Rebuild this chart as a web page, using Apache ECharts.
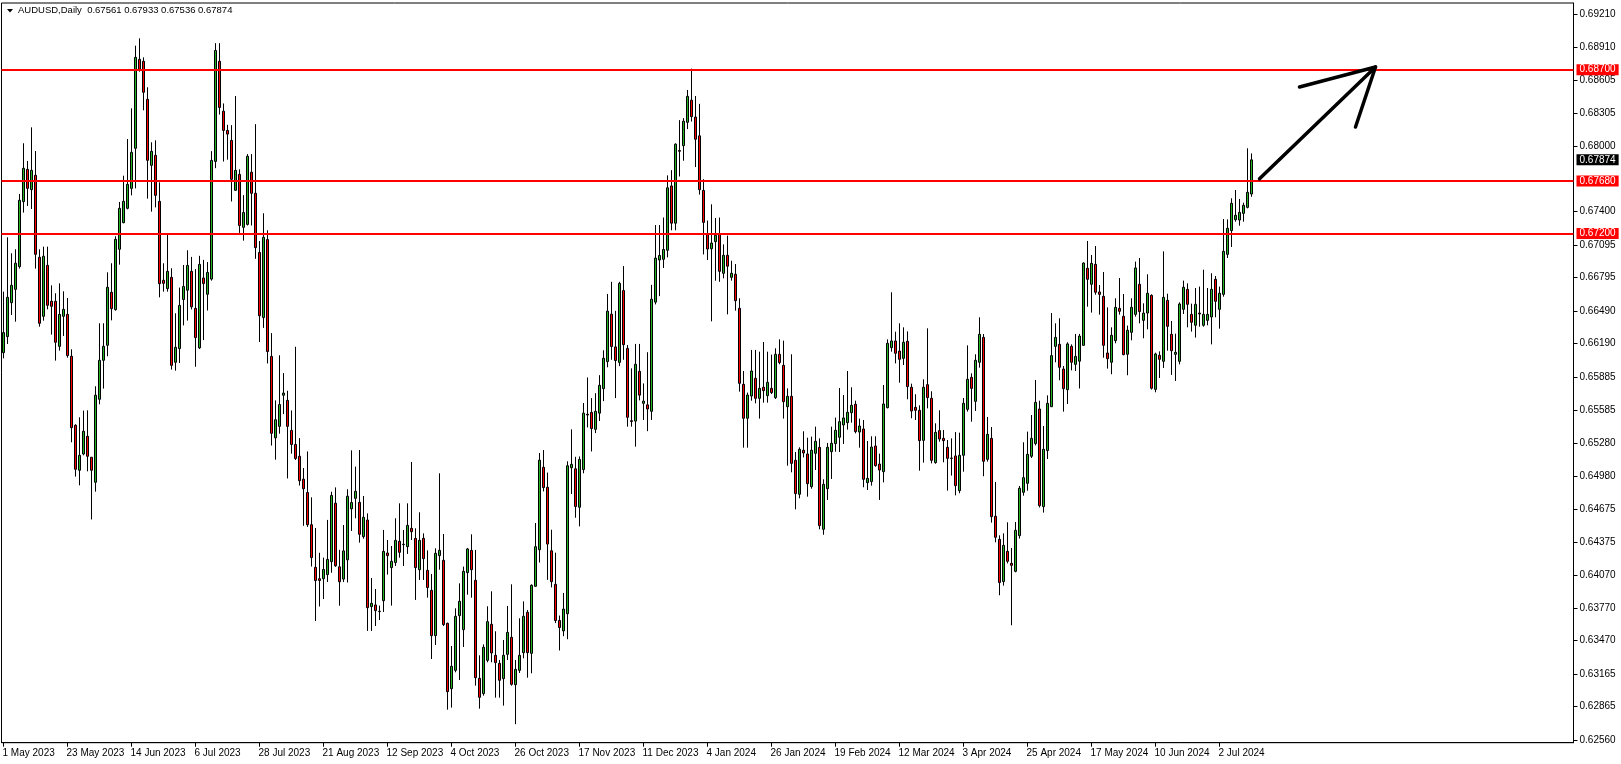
<!DOCTYPE html>
<html><head><meta charset="utf-8">
<script src="https://cdn.jsdelivr.net/npm/echarts@6/dist/echarts.min.js"></script>
<style>html,body{margin:0;padding:0;background:#fff}#c{width:1621px;height:764px}</style>
</head><body><div id="c"></div>
<script>
const symbolName = 'AUDUSD,Daily';
// rows: [open, high, low, close]
const may2023 = [
[0.66108,0.66667,0.66056,0.66292],[0.66255,0.67165,0.66188,0.66615],[0.66566,0.67018,0.66453,0.66725],[0.66688,0.67055,0.66392,0.66927],
[0.66896,0.67562,0.66878,0.67504],[0.67491,0.68026,0.67391,0.67797],[0.67787,0.67864,0.67452,0.67613],[0.67601,0.68172,0.67424,0.67778],
[0.67733,0.67955,0.66878,0.67009],[0.66982,0.67055,0.66346,0.66377],[0.66441,0.67079,0.66401,0.66991],[0.66908,0.67079,0.66505,0.66542],
[0.66579,0.66725,0.66273,0.66533],[0.66579,0.66652,0.66035,0.66203],[0.66166,0.66743,0.66127,0.66459],[0.66441,0.66670,0.66261,0.66505],
[0.66459,0.66609,0.66062,0.66081],[0.66075,0.66139,0.65287,0.65421],[0.65443,0.65452,0.64973,0.65040],[0.65031,0.65516,0.64893,0.65168],
[0.65180,0.65577,0.65168,0.65388],[0.65342,0.65580,0.65021,0.65159],[0.65150,0.65150,0.64580,0.65031]];
const jun2023 = [
[0.64921,0.65800,0.64835,0.65718],[0.65681,0.66377,0.65635,0.66038],[0.66038,0.66377,0.65779,0.66166],[0.66176,0.66844,0.66075,0.66707],
[0.66661,0.66927,0.66404,0.66511],[0.66502,0.67174,0.66493,0.67146],[0.67055,0.67488,0.66914,0.67430],[0.67299,0.67729,0.67293,0.67494],
[0.67430,0.68065,0.67421,0.67650],[0.67613,0.68346,0.67549,0.67943],[0.67980,0.68920,0.67613,0.68813],[0.68795,0.68987,0.68682,0.68703],
[0.68777,0.68813,0.68328,0.68493],[0.68429,0.68539,0.67519,0.67870],[0.67824,0.68035,0.67400,0.67952],[0.67916,0.68053,0.67439,0.67549],
[0.67494,0.67668,0.66615,0.66740],[0.66771,0.66927,0.66667,0.66743],[0.66695,0.67201,0.66667,0.66853],[0.66798,0.66881,0.65953,0.65992],
[0.66020,0.66469,0.65943,0.66157],[0.66145,0.66704,0.66013,0.66541]];
const jul2023 = [
[0.66595,0.66911,0.66358,0.66714],[0.66680,0.67046,0.66402,0.66907],[0.66853,0.66985,0.66504,0.66528],[0.66514,0.66873,0.65979,0.66246],
[0.66152,0.66995,0.66141,0.66917],[0.66792,0.66958,0.66223,0.66741],[0.66643,0.66938,0.66494,0.66843],[0.66782,0.67954,0.66768,0.67869],
[0.67860,0.68943,0.67798,0.68876],[0.68777,0.68943,0.68289,0.68354],[0.68320,0.68391,0.67859,0.68144],[0.68144,0.68195,0.67876,0.68110],
[0.68052,0.68192,0.67493,0.67696],[0.67595,0.68459,0.67592,0.67778],[0.67741,0.67788,0.67205,0.67273],[0.67256,0.67551,0.67134,0.67392],
[0.67283,0.67927,0.67273,0.67907],[0.67761,0.67927,0.67273,0.67568],[0.67568,0.68201,0.66968,0.67070],[0.67026,0.67131,0.66206,0.66446],
[0.66429,0.67385,0.66335,0.67165]];
const aug2023 = [
[0.67144,0.67229,0.66009,0.66118],[0.66074,0.66287,0.65257,0.65369],[0.65328,0.65671,0.65128,0.65494],[0.65433,0.66084,0.65366,0.65633],
[0.65718,0.65921,0.65545,0.65738],[0.65671,0.65759,0.64956,0.65433],[0.65396,0.65579,0.65183,0.65267],[0.65267,0.66162,0.65125,0.65139],
[0.65159,0.65325,0.64891,0.64935],[0.64949,0.65051,0.64522,0.64861],[0.64827,0.65203,0.64512,0.64532],[0.64532,0.64783,0.64149,0.64231],
[0.64142,0.64502,0.63650,0.64021],[0.64037,0.64275,0.63783,0.64021],[0.64037,0.64231,0.63851,0.64122],[0.64075,0.64576,0.64007,0.64214],
[0.64193,0.64834,0.64092,0.64800],[0.64729,0.64874,0.64146,0.64156],[0.64146,0.64302,0.63790,0.64010],[0.64034,0.64529,0.64007,0.64292],
[0.64210,0.64857,0.64003,0.64793],[0.64678,0.65213,0.64475,0.64735],[0.64774,0.65064,0.64591,0.64838]];
const sep2023 = [
[0.64737,0.65216,0.64368,0.64444],[0.64423,0.64795,0.64404,0.64600],[0.64575,0.64636,0.63559,0.63772],[0.63782,0.64044,0.63559,0.63812],
[0.63797,0.63943,0.63604,0.63745],[0.63739,0.63791,0.63659,0.63736],[0.63836,0.64484,0.63733,0.64288],[0.64273,0.64392,0.64075,0.64249],
[0.64139,0.64337,0.63791,0.64197],[0.64185,0.64591,0.64154,0.64389],[0.64380,0.64728,0.64230,0.64279],[0.64349,0.64484,0.64154,0.64353],
[0.64331,0.64728,0.64264,0.64526],[0.64499,0.65107,0.64392,0.64468],[0.64407,0.64499,0.63843,0.64139],[0.64120,0.64646,0.64026,0.64389],
[0.64407,0.64453,0.64026,0.64221],[0.64114,0.64297,0.63864,0.63956],[0.63931,0.64081,0.63302,0.63516],[0.63516,0.64316,0.63430,0.64270],
[0.64249,0.65003,0.64120,0.64297]];
const oct2023 = [
[0.64206,0.64447,0.63604,0.63617],[0.63629,0.63635,0.62838,0.63003],[0.63030,0.63421,0.62857,0.63235],[0.63198,0.63766,0.63180,0.63693],
[0.63699,0.63995,0.63110,0.63830],[0.63571,0.64148,0.63412,0.64105],[0.64093,0.64319,0.63891,0.64310],[0.64297,0.64444,0.63864,0.64120],
[0.64023,0.64301,0.63058,0.63131],[0.63125,0.63336,0.62847,0.62951],[0.62985,0.63436,0.62966,0.63409],[0.63290,0.63785,0.63272,0.63644],
[0.63620,0.63922,0.63272,0.63357],[0.63336,0.63556,0.62948,0.63269],[0.63262,0.63293,0.62948,0.63107],[0.63122,0.63476,0.62875,0.63336],
[0.63345,0.63788,0.63293,0.63546],[0.63501,0.63986,0.63058,0.63070],[0.63067,0.63293,0.62705,0.63207],[0.63198,0.63675,0.63174,0.63336],
[0.63360,0.63830,0.63308,0.63693],[0.63730,0.63751,0.63131,0.63360]];
const nov2023 = [
[0.63354,0.63986,0.63171,0.63977],[0.63968,0.64548,0.63965,0.64331],[0.64303,0.65189,0.64186,0.65123],[0.65058,0.65216,0.64837,0.64872],
[0.64875,0.65010,0.64027,0.64355],[0.64293,0.64486,0.63958,0.64010],[0.63986,0.64276,0.63631,0.63655],[0.63655,0.63700,0.63380,0.63590],
[0.63559,0.63907,0.63511,0.63759],[0.63717,0.65113,0.63483,0.65072],[0.65054,0.65406,0.64813,0.65085],[0.65044,0.65154,0.64596,0.64699],
[0.64692,0.65157,0.64517,0.65130],[0.65037,0.65647,0.65003,0.65554],[0.65544,0.65881,0.65423,0.65537],[0.65561,0.65692,0.65203,0.65413],
[0.65406,0.65737,0.65371,0.65571],[0.65554,0.65902,0.65482,0.65809],[0.65778,0.66130,0.65664,0.66057],[0.66026,0.66646,0.65974,0.66488],
[0.66460,0.66757,0.66043,0.66164],[0.66161,0.66491,0.65692,0.66036]];
const dec2023 = [
[0.66019,0.66757,0.65985,0.66743],[0.66677,0.66901,0.66043,0.66181],[0.66147,0.66178,0.65430,0.65516],[0.65485,0.65964,0.65430,0.65478],
[0.65481,0.66188,0.65247,0.66002],[0.65937,0.66188,0.65671,0.65719],[0.65644,0.65826,0.65492,0.65664],[0.65630,0.66112,0.65389,0.65592],
[0.65571,0.66729,0.65492,0.66598],[0.66571,0.67277,0.66550,0.66974],[0.66957,0.67277,0.66626,0.66998],[0.66963,0.67346,0.66884,0.67053],
[0.67046,0.67732,0.66981,0.67618],[0.67635,0.67780,0.67229,0.67294],[0.67294,0.68025,0.67229,0.68018],[0.67959,0.68238,0.67722,0.67953],
[0.68004,0.68256,0.67866,0.68228],[0.68218,0.68514,0.68156,0.68456],[0.68421,0.68710,0.68225,0.68270],[0.68266,0.68459,0.67808,0.68063]];
const jan2024 = [
[0.68094,0.68387,0.67556,0.67601],[0.67594,0.67697,0.67008,0.67301],[0.67191,0.67318,0.66957,0.67057],[0.67060,0.67467,0.66395,0.67112],
[0.67125,0.67342,0.66767,0.67184],[0.67191,0.67346,0.66757,0.66853],[0.66835,0.67100,0.66789,0.67000],[0.67000,0.67180,0.66459,0.66900],
[0.66798,0.66950,0.66768,0.66835],[0.66826,0.66920,0.66493,0.66584],[0.66514,0.66606,0.65751,0.65827],[0.65818,0.65940,0.65238,0.65507],
[0.65507,0.65742,0.65238,0.65720],[0.65711,0.66133,0.65668,0.65940],[0.65873,0.66133,0.65644,0.65690],[0.65690,0.66117,0.65504,0.65781],
[0.65791,0.66206,0.65650,0.65760],[0.65714,0.66117,0.65650,0.65836],[0.65781,0.66090,0.65729,0.65742],[0.65696,0.66148,0.65684,0.66093],
[0.66093,0.66230,0.66001,0.66017],[0.65992,0.66218,0.65504,0.65659]];
const feb2024 = [
[0.65613,0.65781,0.65073,0.65708],[0.65708,0.66093,0.65012,0.65094],[0.65122,0.65198,0.64673,0.64817],[0.64811,0.65241,0.64774,0.65223],
[0.65214,0.65388,0.65149,0.65189],[0.65180,0.65329,0.64789,0.64908],[0.64881,0.65339,0.64862,0.65214],[0.65186,0.65430,0.65033,0.65296],
[0.65241,0.65323,0.64490,0.64524],[0.64490,0.64948,0.64440,0.64902],[0.64862,0.65281,0.64759,0.65241],[0.65201,0.65430,0.64951,0.65278],
[0.65275,0.65513,0.65201,0.65397],[0.65333,0.65784,0.65198,0.65476],[0.65446,0.65720,0.65272,0.65510],[0.65467,0.65940,0.65403,0.65562],
[0.65558,0.65791,0.65467,0.65626],[0.65635,0.65668,0.65369,0.65385],[0.65381,0.65504,0.65238,0.65436],[0.65409,0.65491,0.64875,0.64948],
[0.64917,0.65299,0.64850,0.64957]];
const mar2024 = [
[0.64927,0.65342,0.64890,0.65244],[0.65253,0.65342,0.65064,0.65073],[0.65088,0.65183,0.64759,0.65033],[0.65018,0.65812,0.64920,0.65638],
[0.65604,0.66230,0.65598,0.66194],[0.66154,0.66661,0.66117,0.66215],[0.66215,0.66300,0.66010,0.66102],[0.66123,0.66377,0.65833,0.66047],
[0.66056,0.66340,0.65995,0.66203],[0.66212,0.66303,0.65681,0.65797],[0.65791,0.65824,0.65507,0.65574],[0.65607,0.65727,0.65491,0.65580],
[0.65580,0.65626,0.65027,0.65302],[0.65305,0.65864,0.65101,0.65791],[0.65815,0.66331,0.65598,0.65696],[0.65690,0.65754,0.65094,0.65122],
[0.65101,0.65461,0.65091,0.65378],[0.65394,0.65580,0.65293,0.65317],[0.65323,0.65400,0.65104,0.65302],[0.65241,0.65308,0.64844,0.65140],
[0.65143,0.65323,0.64982,0.65140]];
const apr2024 = [
[0.65162,0.65381,0.64801,0.64890],[0.64844,0.65375,0.64820,0.65168],[0.65168,0.65693,0.65018,0.65644],[0.65589,0.66175,0.65568,0.65864],
[0.65882,0.65919,0.65476,0.65781],[0.65662,0.66093,0.65574,0.66038],[0.66020,0.66432,0.65971,0.66276],[0.66248,0.66279,0.64976,0.65113],
[0.65131,0.65519,0.65110,0.65360],[0.65323,0.65427,0.64551,0.64606],[0.64609,0.64924,0.64371,0.64417],[0.64398,0.64435,0.63886,0.64002],
[0.64011,0.64453,0.63974,0.64343],[0.64288,0.64554,0.64178,0.64197],[0.64178,0.64319,0.63611,0.64160],[0.64105,0.64557,0.64096,0.64481],
[0.64432,0.64887,0.64405,0.64866],[0.64829,0.65287,0.64798,0.64963],[0.64911,0.65385,0.64844,0.65177],[0.65159,0.65537,0.65143,0.65323],
[0.65275,0.65858,0.65259,0.65653],[0.65592,0.65668,0.64690,0.64707]];
const may2024 = [
[0.64698,0.65436,0.64643,0.65223],[0.65211,0.65717,0.65134,0.65644],[0.65613,0.66471,0.65610,0.66081],[0.66166,0.66377,0.66020,0.66248],
[0.66184,0.66423,0.65855,0.65974],[0.65958,0.65986,0.65568,0.65778],[0.65769,0.66203,0.65638,0.66188],[0.66166,0.66184,0.65946,0.66020],
[0.66001,0.66279,0.65940,0.66074],[0.66030,0.66280,0.65780,0.66260],[0.66175,0.66935,0.66172,0.66929],[0.66881,0.67131,0.66529,0.66780],
[0.66734,0.67003,0.66475,0.66926],[0.66917,0.67085,0.66639,0.66661],[0.66664,0.66728,0.66456,0.66642],[0.66624,0.66847,0.66062,0.66175],
[0.66105,0.66523,0.65962,0.66053],[0.66020,0.66340,0.65910,0.66267],[0.66218,0.66606,0.66194,0.66523],[0.66514,0.66792,0.66456,0.66487],
[0.66441,0.66645,0.66084,0.66090],[0.66093,0.66356,0.65901,0.66313],[0.66294,0.66606,0.66221,0.66523]];
const jun2024 = [
[0.66459,0.66942,0.66438,0.66884],[0.66734,0.66975,0.66377,0.66484],[0.66404,0.66560,0.66240,0.66471],[0.66471,0.66826,0.66322,0.66652],
[0.66633,0.66642,0.65770,0.65782],[0.65772,0.66108,0.65745,0.66096],[0.66084,0.66120,0.65876,0.66047],[0.66029,0.67036,0.65968,0.66615],
[0.66587,0.66648,0.66126,0.66349],[0.66276,0.66398,0.65904,0.66126],[0.66093,0.66282,0.65849,0.66111],[0.66029,0.66569,0.66001,0.66554],
[0.66505,0.66768,0.66462,0.66707],[0.66688,0.66743,0.66340,0.66551],[0.66459,0.66557,0.66301,0.66386],[0.66359,0.66700,0.66246,0.66551],
[0.66471,0.66713,0.66346,0.66462],[0.66359,0.66868,0.66346,0.66459],[0.66404,0.66700,0.66359,0.66459],[0.66435,0.66835,0.66184,0.66688]];
const jul2024 = [
[0.66780,0.66810,0.66432,0.66578],[0.66505,0.66713,0.66328,0.66652],[0.66642,0.67332,0.66621,0.67036],[0.67009,0.67329,0.66975,0.67247],
[0.67226,0.67522,0.67076,0.67476],[0.67326,0.67598,0.67308,0.67366],[0.67323,0.67516,0.67271,0.67393],[0.67384,0.67482,0.67308,0.67458],
[0.67439,0.67980,0.67430,0.67577],[0.67561,0.67933,0.67536,0.67874]];

const priceTicks = [0.62560,0.62865,0.63165,0.63470,0.63770,0.64070,0.64375,0.64675,0.64980,0.65280,0.65585,0.65885,
  0.66190,0.66490,0.66795,0.67095,0.67400,0.68000,0.68305,0.68605,0.68910,0.69210];
const levels = [0.68700, 0.67680, 0.67200];
const dateTicks = ['1 May 2023','23 May 2023','14 Jun 2023','6 Jul 2023','28 Jul 2023','21 Aug 2023','12 Sep 2023',
  '4 Oct 2023','26 Oct 2023','17 Nov 2023','11 Dec 2023','4 Jan 2024','26 Jan 2024','19 Feb 2024','12 Mar 2024',
  '3 Apr 2024','25 Apr 2024','17 May 2024','10 Jun 2024','2 Jul 2024'];
const firstDay = '2023-05-01';
const noTradeDays = ['2023-12-25', '2024-01-01'];
// hand-drawn arrow, as [bar index, price]
const arrowShaft = [[314, 0.67700], [343, 0.68725]];
const arrowHead = [[324, 0.68542], [343, 0.68725], [338, 0.68175]];

const rows = [].concat(may2023, jun2023, jul2023, aug2023, sep2023, oct2023, nov2023, dec2023,
  jan2024, feb2024, mar2024, apr2024, may2024, jun2024, jul2024);
const MON = ['Jan','Feb','Mar','Apr','May','Jun','Jul','Aug','Sep','Oct','Nov','Dec'];
const cats = [];
let d = new Date(firstDay + 'T00:00:00Z');
while (cats.length < rows.length) {
  const wd = d.getUTCDay();
  const iso = d.toISOString().slice(0, 10);
  if (wd !== 0 && wd !== 6 && noTradeDays.indexOf(iso) < 0) {
    cats.push(d.getUTCDate() + ' ' + MON[d.getUTCMonth()] + ' ' + d.getUTCFullYear());
  }
  d = new Date(d.getTime() + 86400000);
}
const TOTAL = 393;
while (cats.length < TOTAL) cats.push('');
const tickSet = new Set(dateTicks);
const showTick = (i, v) => tickSet.has(v);
const last = rows[rows.length - 1];
const candleData = rows.map(r => [r[0], r[3], r[2], r[1]]);

const chart = echarts.init(document.getElementById('c'), null, {renderer: 'canvas'});
const FONT = 'Liberation Sans, Arial, sans-serif';
const fmt5 = v => Number(v).toFixed(5);
chart.setOption({
  animation: false,
  backgroundColor: '#ffffff',
  textStyle: {fontFamily: FONT},
  title: {
    text: symbolName + '  ' + last.map(fmt5).join(' '),
    left: 18, top: 5, padding: 0,
    textStyle: {fontSize: 9.5, fontWeight: 'normal', color: '#000', fontFamily: FONT}
  },
  graphic: [{type: 'polygon', shape: {points: [[7, 9], [13, 9], [10, 12.5]]}, style: {fill: '#000'}}],
  grid: {left: 1.5, top: 3, width: 1572, height: 739.7, show: true, borderColor: '#000', borderWidth: 1,
         backgroundColor: 'transparent', containLabel: false, outerBoundsMode: 'none'},
  xAxis: {
    type: 'category', data: cats, boundaryGap: true,
    axisLine: {show: true, lineStyle: {color: '#000', width: 1}},
    axisTick: {show: true, alignWithLabel: true, interval: showTick, length: 4, lineStyle: {color: '#000'}},
    axisLabel: {show: true, interval: showTick, align: 'left', margin: 6, fontSize: 10, color: '#000',
                fontFamily: FONT, hideOverlap: false, padding: [0, 0, 0, -1]},
    splitLine: {show: false}
  },
  yAxis: {
    type: 'value', position: 'right', min: 0.625353, max: 0.693109, scale: true,
    axisLine: {show: true, lineStyle: {color: '#000', width: 1}},
    axisTick: {show: true, customValues: priceTicks, length: 4, lineStyle: {color: '#000'}},
    axisLabel: {show: true, customValues: priceTicks, formatter: fmt5, margin: 6, fontSize: 10, color: '#000', fontFamily: FONT},
    splitLine: {show: false}
  },
  series: [
    {
      type: 'candlestick', data: candleData, barWidth: 2,
      itemStyle: {color: '#22B422', color0: '#FF0000', borderColor: '#000', borderColor0: '#000', borderWidth: 1},
      markLine: {
        silent: true, symbol: ['none', 'none'], animation: false, precision: 5,
        label: {position: 'end', formatter: p => fmt5(p.value), color: '#fff', backgroundColor: '#FF0000',
                fontSize: 10, fontFamily: FONT, padding: [1, 3, 0, 3], distance: 3},
        lineStyle: {color: '#FF0000', width: 2, type: 'solid'},
        data: levels.map(v => ({yAxis: v})).concat([{
          yAxis: last[3], lineStyle: {color: 'rgba(0,0,0,0)', width: 0},
          label: {backgroundColor: '#000000', color: '#ffffff', opacity: 1}
        }])
      }
    },
    {type: 'line', data: arrowShaft, symbol: 'none', silent: true,
     lineStyle: {color: '#000', width: 3.5, cap: 'round'}, z: 5},
    {type: 'line', data: arrowHead, symbol: 'none', silent: true,
     lineStyle: {color: '#000', width: 3.5, cap: 'round', join: 'round'}, z: 5}
  ]
});
</script></body></html>
